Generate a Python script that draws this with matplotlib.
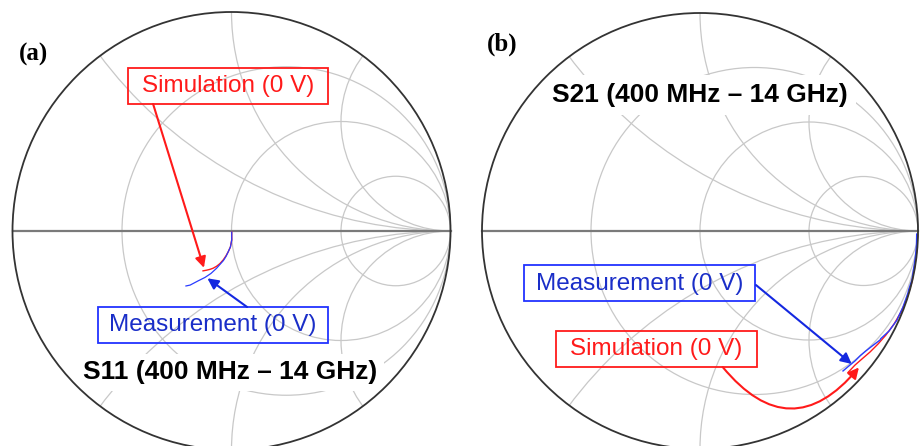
import numpy as np
import matplotlib.pyplot as plt
from matplotlib.patches import Circle, Rectangle

# --- data (reflection coefficient, re / im) ---
# (a) S11, 400 MHz - 14 GHz
s11_meas_re = [0.001, 0.001, -0.005, -0.015, -0.025, -0.037, -0.053, -0.068,
               -0.094, -0.121, -0.153, -0.189, -0.208]
s11_meas_im = [-0.005, -0.041, -0.073, -0.095, -0.116, -0.135, -0.153, -0.170,
               -0.194, -0.212, -0.228, -0.247, -0.251]
s11_sim_re = [0.001, 0.001, -0.005, -0.015, -0.025, -0.037, -0.053, -0.068,
              -0.084, -0.098, -0.114, -0.130]
s11_sim_im = [-0.005, -0.041, -0.073, -0.095, -0.113, -0.131, -0.149, -0.161,
              -0.170, -0.175, -0.179, -0.182]

# (b) S21, 400 MHz - 14 GHz
s21_meas_re = [0.994, 0.993, 0.989, 0.984, 0.972, 0.957, 0.954, 0.931, 0.908,
               0.904, 0.867, 0.829, 0.826, 0.789, 0.761, 0.736, 0.711, 0.683, 0.656]
s21_meas_im = [-0.014, -0.064, -0.110, -0.147, -0.225, -0.270, -0.284, -0.349,
               -0.398, -0.408, -0.459, -0.494, -0.500, -0.528, -0.550, -0.571,
               -0.596, -0.619, -0.642]
s21_sim_re = [0.998, 0.995, 0.986, 0.972, 0.950, 0.922, 0.890, 0.853, 0.817,
              0.780, 0.743, 0.711, 0.679]
s21_sim_im = [-0.018, -0.087, -0.156, -0.234, -0.307, -0.372, -0.427, -0.477,
              -0.518, -0.555, -0.587, -0.615, -0.649]

R_GRID = [1 / 3, 1, 3]     # resistance circles
X_GRID = [0.5, 1, 2]       # reactance arcs

GRID = "#c8c8c8"
RED = "#ff1a1a"
BLUE_LINE = "#2a3cff"
BLUE_TXT = "#1a2ec8"
SANS = "Liberation Sans"


def smith_grid(ax):
    unit = Circle((0, 0), 1, transform=ax.transData)
    for r in R_GRID:
        ax.add_patch(Circle((r / (1 + r), 0), 1 / (1 + r), fill=False,
                            ec=GRID, lw=0.9, zorder=1))
    for x in X_GRID:
        for s in (1, -1):
            c = Circle((1, s / x), 1 / x, fill=False, ec=GRID, lw=0.9, zorder=1)
            ax.add_patch(c)
            c.set_clip_path(unit)
    ax.plot([-1, 1], [0, 0], color="#7a7a7a", lw=1.6, zorder=2)
    ax.add_patch(Circle((0, 0), 1, fill=False, ec="#333333", lw=1.3, zorder=5))


def label_box(ax, text, box, center, txt_color, edge_color):
    x0, y0, x1, y1 = box
    ax.add_patch(Rectangle((x0, y0), x1 - x0, y1 - y0, fill=False,
                           ec=edge_color, lw=1.3, zorder=6))
    ax.text(center[0], center[1], text, color=txt_color, fontsize=17.5,
            family=SANS, ha="center", va="center", zorder=6)


def arrow(ax, head, tail, color, rad=0.0):
    ax.annotate("", xy=head, xytext=tail, zorder=7,
                arrowprops=dict(arrowstyle="-|>", color=color, lw=1.5,
                                mutation_scale=16, shrinkA=0, shrinkB=0,
                                connectionstyle=f"arc3,rad={rad}"))


fig = plt.figure(figsize=(9.22, 4.46), dpi=100)

# ─── (a) S11 ──────────────────────────────────────────────────────────────
axa = fig.add_axes([0, 0, 0.5, 1])
axa.set_xlim(-231.5 / 219, (461 - 231.5) / 219)
axa.set_ylim((231 - 446) / 219, 231 / 219)
axa.axis("off")
smith_grid(axa)

axa.plot(s11_sim_re, s11_sim_im, color=RED, lw=1.0, zorder=4)
axa.plot(s11_meas_re, s11_meas_im, color=BLUE_LINE, lw=0.9, zorder=4)

label_box(axa, "Simulation (0 V)", (-0.473, 0.580, 0.441, 0.744),
          (-0.016, 0.662), RED, RED)
label_box(axa, "Measurement (0 V)", (-0.610, -0.511, 0.441, -0.347),
          (-0.084, -0.431), BLUE_TXT, "#2233ff")
arrow(axa, (-0.126, -0.168), (-0.358, 0.580), RED)
arrow(axa, (-0.110, -0.216), (0.071, -0.347), "#1428e0")

axa.text(-0.007, -0.645, "S11 (400 MHz – 14 GHz)", fontsize=19,
         fontweight="bold", family=SANS, ha="center", va="center", zorder=3,
         bbox=dict(boxstyle="square,pad=0.25", fc="white", ec="none"))
axa.text(-0.904, 0.808, "(a)", fontsize=18, fontweight="bold",
         family="Liberation Serif", ha="center", va="center", zorder=6)

# ─── (b) S21 ──────────────────────────────────────────────────────────────
axb = fig.add_axes([0.5, 0, 0.5, 1])
axb.set_xlim(-239 / 218, (461 - 239) / 218)
axb.set_ylim((231 - 446) / 218, 231 / 218)
axb.axis("off")
smith_grid(axb)

axb.plot(s21_sim_re, s21_sim_im, color=RED, lw=1.0, zorder=4)
axb.plot(s21_meas_re, s21_meas_im, color=BLUE_LINE, lw=1.0, zorder=4)

label_box(axb, "Measurement (0 V)", (-0.807, -0.321, 0.252, -0.156),
          (-0.278, -0.245), BLUE_TXT, "#2233ff")
label_box(axb, "Simulation (0 V)", (-0.662, -0.624, 0.261, -0.457),
          (-0.200, -0.542), RED, RED)
arrow(axb, (0.696, -0.610), (0.257, -0.248), "#1428e0")
arrow(axb, (0.729, -0.626), (0.104, -0.624), RED, rad=0.6)

axb.text(0.0, 0.622, "S21 (400 MHz – 14 GHz)", fontsize=19,
         fontweight="bold", family=SANS, ha="center", va="center", zorder=3,
         bbox=dict(boxstyle="square,pad=0.3", fc="white", ec="none"))
axb.text(-0.908, 0.858, "(b)", fontsize=18, fontweight="bold",
         family="Liberation Serif", ha="center", va="center", zorder=6)

fig.savefig("out.png", dpi=100)
